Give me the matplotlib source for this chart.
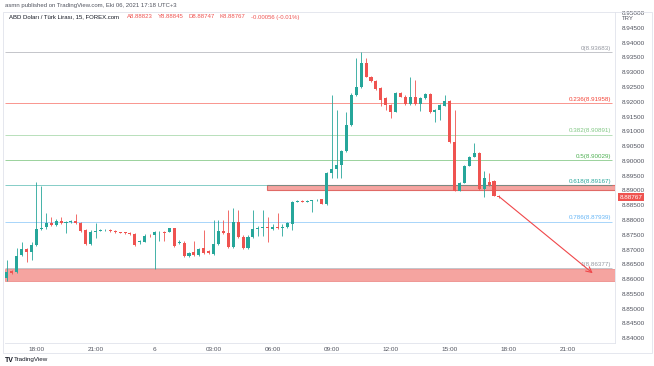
import numpy as np
import matplotlib.pyplot as plt
from matplotlib.patches import Rectangle, FancyArrowPatch
import matplotlib.transforms as mtransforms

# 15 min USD/TRY candles
opens = [8.86037, 8.86273, 8.86250, 8.86815, 8.87018, 8.86927, 8.87153, 8.87695, 8.87752, 8.87908,
         8.87830, 8.87966, 8.87898, 8.87915, 8.87966, 8.87888, 8.87661, 8.87187, 8.87610, 8.87634,
         8.87644, 8.87661, 8.87627, 8.87593, 8.87583, 8.87569, 8.87515, 8.87238, 8.87265, 8.87492,
         8.87492, 8.87583, 8.87604, 8.87604, 8.87718, 8.87211, 8.87231, 8.86782, 8.86927, 8.86815,
         8.87052, 8.86950, 8.86849, 8.87187, 8.87627, 8.87549, 8.87076, 8.87942, 8.87434, 8.87042,
         8.87434, 8.87695, 8.87728, 8.87762, 8.87695, 8.87762, 8.87728, 8.87762, 8.87864, 8.88625,
         8.88642, 8.88625, 8.88642, 8.88659, 8.88693, 8.88541, 8.89579, 8.89725, 8.89860, 8.90334,
         8.91213, 8.92228, 8.92509, 8.93301, 8.92847, 8.92702, 8.92455, 8.92116, 8.91890, 8.91663,
         8.92286, 8.92171, 8.91914, 8.92171, 8.91914, 8.92116, 8.92252, 8.91663, 8.91721, 8.91866,
         8.92025, 8.90648, 8.88991, 8.89261, 8.89836, 8.90141, 8.90276, 8.89048, 8.89295, 8.89319,
         8.88823]
highs = [8.86646, 8.86307, 8.87052, 8.87265, 8.87052, 8.87265, 8.89295, 8.89150, 8.88246, 8.88101,
         8.88034, 8.88111, 8.87949, 8.87983, 8.88202, 8.87932, 8.87695, 8.87661, 8.87908, 8.87678,
         8.87695, 8.87678, 8.87644, 8.87610, 8.87593, 8.87593, 8.87559, 8.87322, 8.87509, 8.87542,
         8.87627, 8.87627, 8.87627, 8.87745, 8.87728, 8.87322, 8.87289, 8.86917, 8.87289, 8.87052,
         8.87661, 8.86984, 8.88000, 8.88000, 8.88000, 8.88338, 8.88405, 8.88338, 8.87492, 8.87475,
         8.88338, 8.87796, 8.88338, 8.88111, 8.87864, 8.88246, 8.87864, 8.87932, 8.88642, 8.88659,
         8.88659, 8.88659, 8.88676, 8.88693, 8.88710, 8.89623, 8.92228, 8.91721, 8.90367, 8.91663,
         8.92296, 8.93480, 8.93683, 8.93480, 8.92871, 8.92736, 8.92499, 8.92161, 8.91924, 8.92330,
         8.92313, 8.92228, 8.92837, 8.92736, 8.92161, 8.92296, 8.92279, 8.91755, 8.91924, 8.92228,
         8.92059, 8.91721, 8.89285, 8.89860, 8.90165, 8.90615, 8.90300, 8.89657, 8.89589, 8.89353,
         8.88845]
lows = [8.85935, 8.86173, 8.86206, 8.86782, 8.86578, 8.86646, 8.87120, 8.87661, 8.87695, 8.87796,
        8.87796, 8.87864, 8.87559, 8.87898, 8.87864, 8.87593, 8.87153, 8.87153, 8.87390, 8.87627,
        8.87627, 8.87610, 8.87576, 8.87559, 8.87525, 8.87492, 8.87120, 8.87204, 8.87255, 8.87434,
        8.86331, 8.87289, 8.87289, 8.87593, 8.87086, 8.87187, 8.86748, 8.86748, 8.86782, 8.86782,
        8.86849, 8.86849, 8.86815, 8.87153, 8.87525, 8.87052, 8.87052, 8.87407, 8.87018, 8.87018,
        8.87407, 8.87458, 8.87458, 8.87265, 8.87661, 8.87695, 8.87458, 8.87728, 8.87661, 8.88608,
        8.88608, 8.88608, 8.88280, 8.88642, 8.88524, 8.88507, 8.89420, 8.89420, 8.89420, 8.90300,
        8.91179, 8.92194, 8.92465, 8.92837, 8.92668, 8.92397, 8.91856, 8.91721, 8.91450, 8.91653,
        8.92144, 8.91890, 8.91890, 8.91890, 8.91687, 8.92093, 8.91636, 8.91325, 8.91383, 8.91856,
        8.90604, 8.88981, 8.88981, 8.89251, 8.89826, 8.90131, 8.89015, 8.88787, 8.89150, 8.88811,
        8.88747]
closes = [8.86240, 8.86223, 8.86782, 8.87018, 8.86927, 8.87153, 8.87695, 8.87745, 8.87908, 8.87830,
          8.87966, 8.87888, 8.87915, 8.87956, 8.87888, 8.87627, 8.87187, 8.87604, 8.87634, 8.87661,
          8.87668, 8.87627, 8.87593, 8.87576, 8.87549, 8.87515, 8.87153, 8.87289, 8.87468, 8.87482,
          8.87593, 8.87604, 8.87576, 8.87718, 8.87120, 8.87265, 8.86782, 8.86893, 8.86805, 8.87018,
          8.86873, 8.86883, 8.87187, 8.87627, 8.87549, 8.87076, 8.87942, 8.87434, 8.87042, 8.87434,
          8.87695, 8.87728, 8.87762, 8.87728, 8.87762, 8.87728, 8.87762, 8.87898, 8.88608, 8.88642,
          8.88625, 8.88642, 8.88659, 8.88676, 8.88541, 8.89579, 8.89725, 8.89860, 8.90334, 8.91213,
          8.92228, 8.92509, 8.93301, 8.92847, 8.92702, 8.92421, 8.92059, 8.91890, 8.91663, 8.92286,
          8.92171, 8.91914, 8.92171, 8.91914, 8.92137, 8.92252, 8.91663, 8.91721, 8.91890, 8.92025,
          8.90648, 8.88991, 8.89261, 8.89836, 8.90141, 8.90276, 8.89048, 8.89430, 8.89183, 8.88823,
          8.88767]

# fibonacci retracement drawn on the chart
fib_ratios = ['0', '0.236', '0.382', '0.5', '0.618', '0.786', '1']
fib_values = [8.93683, 8.91958, 8.90891, 8.90029, 8.89167, 8.87939, 8.86377]
fib_colors = ['#9598a1', '#f44336', '#81c784', '#4caf50', '#26a69a', '#64b5f6', '#9598a1']

# support zones (rectangles) and the arrow
zone_low = [8.85946, 8.86342]
zone_mid = [8.89015, 8.89194]
arrow_from = (99.6, 8.8885)
arrow_to = (119.5, 8.8614)

time_ticks = [6, 18, 30, 42, 54, 66, 78, 90, 102, 114]
time_labels = ['18:00', '21:00', '6', '03:00', '06:00', '09:00', '12:00', '15:00', '18:00', '21:00']
price_ticks = np.round(np.arange(8.840, 8.9501, 0.005), 3)

legend_parts = ['A8.88823', 'Y8.88845', 'D8.88747', 'K8.88767', '-0.00056 (-0.01%)']

GREEN = '#26a69a'
RED = '#ef5350'
W, H = 654, 366

def fx(px):
    return px / W

def fy(py):
    return 1 - py / H

plt.rcParams['font.family'] = ['Liberation Sans', 'DejaVu Sans']

fig = plt.figure(figsize=(W / 100, H / 100), dpi=100)
fig.patch.set_facecolor('white')
ax = fig.add_axes([fx(5), fy(343), fx(615) - fx(5), fy(12) - fy(343)])

o = np.array(opens)
h = np.array(highs)
l = np.array(lows)
c = np.array(closes)
idx = np.arange(len(o))
cols = np.where(c >= o, GREEN, RED)

xmin, xmax = -0.4, 123.6
ax.set_xlim(xmin, xmax)
ax.set_ylim(8.83838, 8.95036)

# zones
ax.add_patch(Rectangle((xmin, zone_low[0]), xmax - xmin, zone_low[1] - zone_low[0],
                       facecolor='#f5a4a0', edgecolor='#ee8f8b', lw=0.6, zorder=1))
ax.add_patch(Rectangle((52.9, zone_mid[0]), xmax - 52.9, zone_mid[1] - zone_mid[0],
                       facecolor='#f5a4a0', edgecolor='#e06a66', lw=0.8, zorder=1))

# fib levels
fib_end = 123.0
for r, v, col in zip(fib_ratios, fib_values, fib_colors):
    ax.hlines(v, xmin, fib_end, colors=col, lw=0.6, alpha=0.65, zorder=2)
    ax.annotate('%s(%.5f)' % (r, v), (fib_end - 0.2, v), xytext=(0, 1), textcoords='offset points',
                ha='right', va='bottom', fontsize=4.5, color=col, zorder=2)

# candles
ax.vlines(idx, l, h, colors=cols, lw=0.6, zorder=3)
body = np.maximum(np.abs(c - o), 0.00018)
ax.bar(idx, body, bottom=np.minimum(o, c), width=0.62, color=cols, linewidth=0, zorder=3)

# arrow
ax.add_patch(FancyArrowPatch(arrow_from, arrow_to, arrowstyle='->,head_length=0.5,head_width=0.25',
                             mutation_scale=8, color='#f0474a', lw=0.8, zorder=4))

# axes styling
ax.set_xticks(time_ticks)
ax.set_xticklabels(time_labels)
ax.yaxis.tick_right()
ax.set_yticks(price_ticks)
ax.set_yticklabels(['%.5f' % p for p in price_ticks])
ax.tick_params(axis='both', length=0, labelsize=4.6, colors='#50535e')
ax.tick_params(axis='x', pad=3)
ax.tick_params(axis='y', pad=5)
for s in ['top', 'left']:
    ax.spines[s].set_visible(False)
for s in ['right', 'bottom']:
    ax.spines[s].set_color('#e0e3eb')
    ax.spines[s].set_linewidth(0.6)

# last price tag
tr = mtransforms.blended_transform_factory(ax.transAxes, ax.transData)
ax.text(1.008, closes[-1], '%.5f' % closes[-1], transform=tr, ha='left', va='center',
        fontsize=4.6, color='white', zorder=5,
        bbox=dict(boxstyle='square,pad=0.25', fc=RED, ec='none'))

# outer frame
fig.add_artist(Rectangle((fx(3), fy(353)), fx(652) - fx(3), fy(12) - fy(353), transform=fig.transFigure,
                         fill=False, edgecolor='#e0e3eb', lw=0.6))

# header texts
fig.text(fx(5), fy(5), 'asmn published on TradingView.com, Eki 06, 2021 17:18 UTC+3',
         fontsize=4.3, color='#50535e', va='center')
title = fig.text(fx(9), fy(17), 'ABD Doları / Türk Lirası, 15, FOREX.com', fontsize=4.3,
                 color='#131722', va='center')

# place the OHLC legend pieces one after another
fig.canvas.draw()
renderer = fig.canvas.get_renderer()
x_px = title.get_window_extent(renderer).x1 + 8
for txt in legend_parts:
    t = fig.text(x_px / W, fy(17), txt, fontsize=4.3, color=RED, va='center')
    x_px = t.get_window_extent(renderer).x1 + 5

fig.text(fx(622), fy(18.5), 'TRY', fontsize=4.3, color='#50535e', va='center')

# logo
fig.text(fx(5), fy(360), 'TV', fontsize=5, fontweight='bold', color='#131722', va='center')
fig.text(fx(14), fy(360), 'TradingView', fontsize=4.5, color='#131722', va='center')

fig.savefig('out.png', dpi=100, facecolor='white')
